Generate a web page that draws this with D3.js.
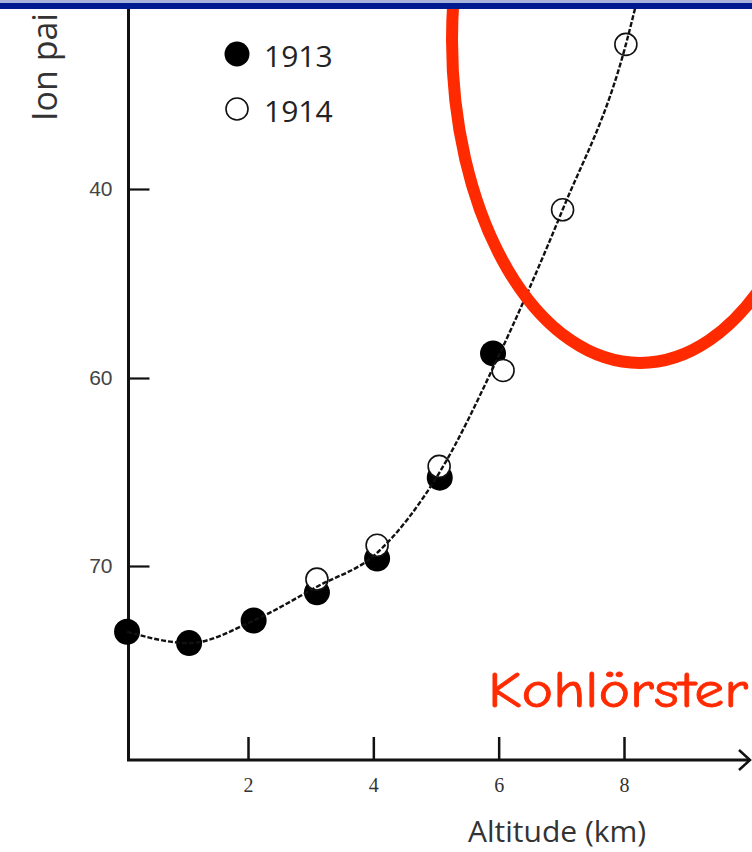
<!DOCTYPE html>
<head>
<meta charset="utf-8">
<title>Kohlörster ion pairs vs altitude</title>
<script src="https://d3js.org/d3.v7.min.js"></script>
<style>
body { margin: 0; background: #fff; }
</style>
</head>
<body>
<script>
// readings (altitude in km, ion pairs as on the printed axis)
var alt1913 = [0.07, 1.06, 2.09, 3.1, 4.06, 5.06, 5.91];
var ion1913 = [73.5, 74.1, 72.9, 71.4, 69.6, 65.3, 57.4];
var alt1914 = [3.1, 4.06, 5.05, 6.07, 7.02, 8.03];
var ion1914 = [70.7, 68.9, 64.7, 59.2, 42.2, 24.7];
var fitAlt = [0.07, 1.06, 2.09, 3.1, 4.06, 5.06, 5.99, 7.02, 8.03, 8.21];
var fitIon = [73.5, 74.1, 72.9, 71.1, 69.3, 65.0, 57.8, 42.2, 24.7, 20.0];
var xTicks = [2, 4, 6, 8];
var yTicks = [40, 60, 70];
var legendLabels = ["1913", "1914"];

var svg = d3.select("body").append("svg")
    .attr("width", 752)
    .attr("height", 852);

var x = d3.scaleLinear().domain([2, 8]).range([248, 624]);
// printed axis is not evenly spaced, so use a piecewise scale
var y = d3.scaleLinear().domain(yTicks).range([189, 378, 566]);
var axisX = 128.5, axisY = 760;

// axes
svg.append("line")
    .attr("x1", axisX).attr("y1", 0).attr("x2", axisX).attr("y2", axisY)
    .style("stroke", "#111").style("stroke-width", 3);
svg.append("line")
    .attr("x1", axisX - 1.5).attr("y1", axisY).attr("x2", 750).attr("y2", axisY)
    .style("stroke", "#111").style("stroke-width", 3);
svg.append("path")
    .attr("d", "M739,750 L750,760 L739,770")
    .style("fill", "none").style("stroke", "#111").style("stroke-width", 2.5);

var gx = svg.append("g")
    .attr("transform", "translate(0," + axisY + ")")
    .call(d3.axisBottom(x).tickValues(xTicks).tickFormat(d3.format("d")).tickSize(-23).tickPadding(18));
gx.select(".domain").remove();
gx.selectAll("line").style("stroke", "#111").style("stroke-width", 2.5);
gx.selectAll("text")
    .style("font-family", "'Liberation Serif', serif")
    .style("font-size", "20px")
    .style("fill", "#333");

var gy = svg.append("g")
    .attr("transform", "translate(" + axisX + ",0)")
    .call(d3.axisLeft(y).tickValues(yTicks).tickFormat(d3.format("d")).tickSize(-21).tickPadding(16));
gy.select(".domain").remove();
gy.selectAll("line").style("stroke", "#111").style("stroke-width", 2.2);
gy.selectAll("text")
    .style("font-family", "'Liberation Sans', sans-serif")
    .style("font-size", "21px")
    .style("fill", "#444");

// axis titles
svg.append("text")
    .attr("x", 468).attr("y", 842)
    .text("Altitude (km)")
    .style("font-family", "'Open Sans', sans-serif")
    .style("font-size", "30px")
    .style("fill", "#333");

// y title is cut by the slide frame in the source, only this part shows
svg.append("text")
    .attr("transform", "translate(57,121) rotate(-90)")
    .text("Ion pai")
    .style("font-family", "'Open Sans', sans-serif")
    .style("font-size", "34px")
    .style("fill", "#333");

// data points
var d1913 = alt1913.map(function(a, i){ return {alt: a, ion: ion1913[i]}; });
var d1914 = alt1914.map(function(a, i){ return {alt: a, ion: ion1914[i]}; });
var fit = fitAlt.map(function(a, i){ return {alt: a, ion: fitIon[i]}; });

svg.selectAll(".dot1913")
    .data(d1913)
  .enter().append("circle")
    .attr("class", "dot1913")
    .attr("cx", function(d){ return x(d.alt); })
    .attr("cy", function(d){ return y(d.ion); })
    .attr("r", 13)
    .style("fill", "#000");

svg.selectAll(".dot1914")
    .data(d1914)
  .enter().append("circle")
    .attr("class", "dot1914")
    .attr("cx", function(d){ return x(d.alt); })
    .attr("cy", function(d){ return y(d.ion); })
    .attr("r", 11)
    .style("fill", "#fff")
    .style("stroke", "#111")
    .style("stroke-width", 1.6);

var line = d3.line()
    .x(function(d){ return x(d.alt); })
    .y(function(d){ return y(d.ion); })
    .curve(d3.curveMonotoneX);

svg.append("path")
    .datum(fit)
    .attr("d", line)
    .style("fill", "none")
    .style("stroke", "#111")
    .style("stroke-width", 2.4)
    .style("stroke-dasharray", "5,2");

// legend
var legend = svg.selectAll(".legend")
    .data(legendLabels)
  .enter().append("g")
    .attr("class", "legend")
    .attr("transform", function(d, i){ return "translate(237," + (54 + i * 55) + ")"; });
legend.append("circle")
    .attr("r", function(d, i){ return i == 0 ? 12.5 : 11; })
    .style("fill", function(d, i){ return i == 0 ? "#000" : "#fff"; })
    .style("stroke", "#111")
    .style("stroke-width", function(d, i){ return i == 0 ? 0 : 1.6; });
legend.append("text")
    .attr("x", 27).attr("y", 13)
    .text(function(d){ return d; })
    .style("font-family", "'Open Sans', sans-serif")
    .style("font-size", "30px")
    .style("fill", "#222");

// red highlight and label
svg.append("ellipse")
    .attr("cx", 640).attr("cy", 40)
    .attr("rx", 188).attr("ry", 323)
    .style("fill", "none")
    .style("stroke", "#ff2a00")
    .style("stroke-width", 12);

svg.append("text")
    .attr("x", 488).attr("y", 707)
    .attr("textLength", 260)
    .attr("lengthAdjust", "spacingAndGlyphs")
    .text("Kohlörster")
    .style("font-family", "'Comic Sans MS', 'Comic Neue', 'DejaVu Sans', sans-serif")
    .style("font-size", "50px")
    .style("fill", "#ff2a00")
    .style("stroke", "#ff2a00")
    .style("stroke-width", 0.8);

// slide header bar
svg.append("rect").attr("x", 0).attr("y", 0).attr("width", 752).attr("height", 3).style("fill", "#a9b3dc");
svg.append("rect").attr("x", 0).attr("y", 3).attr("width", 752).attr("height", 6).style("fill", "#001a8f");
</script>
</body>
